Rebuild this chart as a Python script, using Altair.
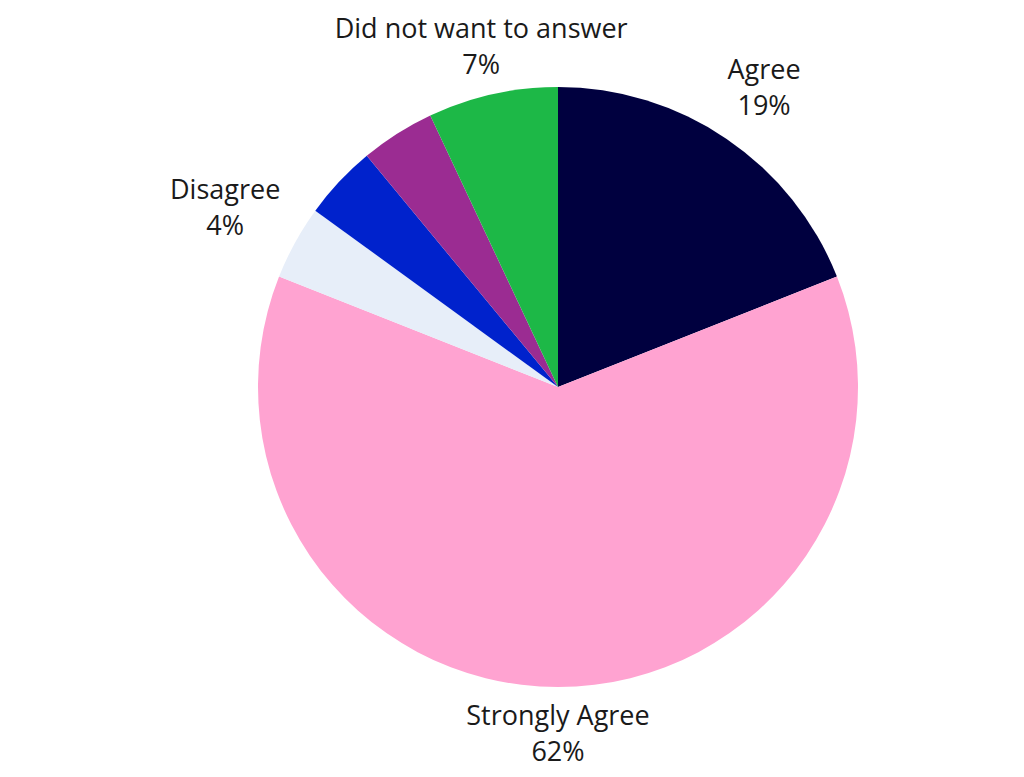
import altair as alt
import pandas as pd

categories = ["Agree", "Strongly Agree", "Disagree", "Strongly Disagree",
              "Neither agree nor disagree", "Did not want to answer"]
values = [19, 62, 4, 4, 4, 7]
colors = ["#00003F", "#FFA3D1", "#E7EEF9", "#0022CC", "#9B2C92", "#1DB847"]
labelled = [True, True, True, False, False, True]

df = pd.DataFrame({
    "category": categories,
    "value": values,
    "order": list(range(len(categories))),
    "labelled": labelled,
})

CX, CY, R = 550, 379, 300

base = alt.Chart(df)

pie = base.mark_arc(outerRadius=R, stroke=None).encode(
    theta=alt.Theta("value:Q", stack=True),
    order=alt.Order("order:Q"),
    color=alt.Color("category:N", scale=alt.Scale(domain=categories, range=colors), legend=None),
    x=alt.value(CX),
    y=alt.value(CY),
)

labels = base.transform_window(
    cum="sum(value)", sort=[alt.SortField("order")], frame=[None, 0]
).transform_joinaggregate(
    total="sum(value)"
).transform_filter(
    alt.datum.labelled
).transform_calculate(
    mid="(datum.cum - datum.value/2) / datum.total * 2 * PI",
    pct="round(datum.value / datum.total * 100) + '%'",
    txt="datum.category + '\\n' + datum.pct",
).transform_calculate(
    r="343 + 42 * abs(sin(datum.mid))",
).transform_calculate(
    lx=f"{CX} + datum.r * sin(datum.mid)",
    ly=f"{CY} - datum.r * cos(datum.mid)",
).mark_text(
    font="Open Sans", fontSize=27, color="#1a1a1a", lineBreak="\n", lineHeight=36,
    align="center", baseline="middle", dy=-13,
).encode(
    x=alt.X("lx:Q", scale=None, axis=None),
    y=alt.Y("ly:Q", scale=None, axis=None),
    text="txt:N",
)

chart = alt.layer(pie, labels).properties(
    width=1000, height=760, padding=0, autosize=alt.AutoSizeParams(type="none")
).configure_view(stroke=None)

chart.save("out.html", embed_options={"renderer": "svg", "actions": False})
